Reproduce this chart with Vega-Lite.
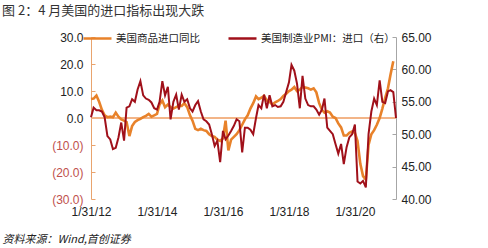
{
  "$schema": "https://vega.github.io/schema/vega-lite/v6.json",
  "width": 305,
  "height": 162,
  "autosize": {"type": "none"},
  "padding": {"left": 91, "top": 37, "right": 92, "bottom": 49},
  "background": "white",
  "config": {"view": {"stroke": null}, "font": "Liberation Sans", "axis": {"labelOverlap": false}},
  "title": {
    "text": "图 2：4 月美国的进口指标出现大跌",
    "anchor": "start",
    "frame": "group",
    "dx": -89,
    "offset": 5,
    "font": "Noto Sans CJK SC",
    "fontSize": 13,
    "fontWeight": "normal",
    "color": "#333333"
  },
  "data": {
    "values": [
      {"date": "2012-01-31", "imports": 7.0, "pmi": 52.6},
      {"date": "2012-02-29", "imports": 7.2, "pmi": 54.1},
      {"date": "2012-03-31", "imports": 8.3, "pmi": 53.7},
      {"date": "2012-04-30", "imports": 6.0, "pmi": 53.7},
      {"date": "2012-05-31", "imports": 3.0, "pmi": 53.5},
      {"date": "2012-06-30", "imports": 1.0, "pmi": 52.6},
      {"date": "2012-07-31", "imports": 0.3, "pmi": 49.7},
      {"date": "2012-08-31", "imports": 0.5, "pmi": 49.2},
      {"date": "2012-09-30", "imports": 0.3, "pmi": 47.7},
      {"date": "2012-10-31", "imports": 2.0, "pmi": 47.9},
      {"date": "2012-11-30", "imports": 0.5, "pmi": 49.5},
      {"date": "2012-12-31", "imports": -0.5, "pmi": 51.8},
      {"date": "2013-01-31", "imports": -1.0, "pmi": 49.0},
      {"date": "2013-02-28", "imports": -1.5, "pmi": 54.1},
      {"date": "2013-03-31", "imports": -6.7, "pmi": 54.3},
      {"date": "2013-04-30", "imports": -3.0, "pmi": 55.4},
      {"date": "2013-05-31", "imports": -1.5, "pmi": 55.0},
      {"date": "2013-06-30", "imports": -0.8, "pmi": 56.9},
      {"date": "2013-07-31", "imports": -0.3, "pmi": 58.2},
      {"date": "2013-08-31", "imports": 0.3, "pmi": 56.0},
      {"date": "2013-09-30", "imports": 0.8, "pmi": 55.5},
      {"date": "2013-10-31", "imports": 1.5, "pmi": 55.3},
      {"date": "2013-11-30", "imports": 0.5, "pmi": 54.9},
      {"date": "2013-12-31", "imports": 1.0, "pmi": 54.0},
      {"date": "2014-01-31", "imports": 1.5, "pmi": 53.8},
      {"date": "2014-02-28", "imports": 5.0, "pmi": 55.0},
      {"date": "2014-03-31", "imports": 6.5, "pmi": 58.2},
      {"date": "2014-04-30", "imports": 4.0, "pmi": 56.0},
      {"date": "2014-05-31", "imports": 5.0, "pmi": 57.3},
      {"date": "2014-06-30", "imports": 4.0, "pmi": 52.3},
      {"date": "2014-07-31", "imports": 3.5, "pmi": 55.0},
      {"date": "2014-08-31", "imports": 4.0, "pmi": 56.1},
      {"date": "2014-09-30", "imports": 4.5, "pmi": 53.8},
      {"date": "2014-10-31", "imports": 4.5, "pmi": 56.1},
      {"date": "2014-11-30", "imports": 5.5, "pmi": 55.0},
      {"date": "2014-12-31", "imports": 4.0, "pmi": 55.4},
      {"date": "2015-01-31", "imports": 1.0, "pmi": 54.0},
      {"date": "2015-02-28", "imports": -1.0, "pmi": 53.5},
      {"date": "2015-03-31", "imports": -4.0, "pmi": 54.5},
      {"date": "2015-04-30", "imports": -4.5, "pmi": 55.1},
      {"date": "2015-05-31", "imports": -4.0, "pmi": 53.5},
      {"date": "2015-06-30", "imports": -4.5, "pmi": 52.3},
      {"date": "2015-07-31", "imports": -4.8, "pmi": 52.0},
      {"date": "2015-08-31", "imports": -6.0, "pmi": 51.5},
      {"date": "2015-09-30", "imports": -6.7, "pmi": 50.0},
      {"date": "2015-10-31", "imports": -7.0, "pmi": 48.2},
      {"date": "2015-11-30", "imports": -8.0, "pmi": 49.0},
      {"date": "2015-12-31", "imports": -8.5, "pmi": 45.7},
      {"date": "2016-01-31", "imports": -7.5, "pmi": 50.5},
      {"date": "2016-02-29", "imports": -1.0, "pmi": 49.2},
      {"date": "2016-03-31", "imports": -12.0, "pmi": 49.8},
      {"date": "2016-04-30", "imports": -8.0, "pmi": 50.5},
      {"date": "2016-05-31", "imports": -7.0, "pmi": 51.3},
      {"date": "2016-06-30", "imports": -6.0, "pmi": 52.3},
      {"date": "2016-07-31", "imports": -4.5, "pmi": 52.0},
      {"date": "2016-08-31", "imports": -2.5, "pmi": 47.2},
      {"date": "2016-09-30", "imports": -0.5, "pmi": 51.0},
      {"date": "2016-10-31", "imports": 1.0, "pmi": 51.0},
      {"date": "2016-11-30", "imports": 3.5, "pmi": 50.7},
      {"date": "2016-12-31", "imports": 5.5, "pmi": 50.0},
      {"date": "2017-01-31", "imports": 8.0, "pmi": 52.5},
      {"date": "2017-02-28", "imports": 7.0, "pmi": 54.5},
      {"date": "2017-03-31", "imports": 7.5, "pmi": 54.0},
      {"date": "2017-04-30", "imports": 8.2, "pmi": 56.1},
      {"date": "2017-05-31", "imports": 6.5, "pmi": 54.0},
      {"date": "2017-06-30", "imports": 6.0, "pmi": 56.0},
      {"date": "2017-07-31", "imports": 5.0, "pmi": 54.3},
      {"date": "2017-08-31", "imports": 5.8, "pmi": 54.5},
      {"date": "2017-09-30", "imports": 6.3, "pmi": 54.2},
      {"date": "2017-10-31", "imports": 7.0, "pmi": 54.3},
      {"date": "2017-11-30", "imports": 8.2, "pmi": 55.0},
      {"date": "2017-12-31", "imports": 9.0, "pmi": 56.5},
      {"date": "2018-01-31", "imports": 10.0, "pmi": 58.0},
      {"date": "2018-02-28", "imports": 10.5, "pmi": 60.7},
      {"date": "2018-03-31", "imports": 11.5, "pmi": 59.8},
      {"date": "2018-04-30", "imports": 10.0, "pmi": 57.8},
      {"date": "2018-05-31", "imports": 10.5, "pmi": 54.0},
      {"date": "2018-06-30", "imports": 11.5, "pmi": 59.0},
      {"date": "2018-07-31", "imports": 11.3, "pmi": 55.5},
      {"date": "2018-08-31", "imports": 11.0, "pmi": 54.5},
      {"date": "2018-09-30", "imports": 10.5, "pmi": 54.3},
      {"date": "2018-10-31", "imports": 11.0, "pmi": 54.3},
      {"date": "2018-11-30", "imports": 9.5, "pmi": 53.8},
      {"date": "2018-12-31", "imports": 5.5, "pmi": 53.0},
      {"date": "2019-01-31", "imports": 3.0, "pmi": 53.8},
      {"date": "2019-02-28", "imports": 2.0, "pmi": 55.5},
      {"date": "2019-03-31", "imports": 2.5, "pmi": 51.0},
      {"date": "2019-04-30", "imports": 2.0, "pmi": 50.5},
      {"date": "2019-05-31", "imports": 0.5, "pmi": 50.0},
      {"date": "2019-06-30", "imports": 0.0, "pmi": 48.5},
      {"date": "2019-07-31", "imports": -2.0, "pmi": 47.0},
      {"date": "2019-08-31", "imports": -3.5, "pmi": 48.5},
      {"date": "2019-09-30", "imports": -6.5, "pmi": 45.4},
      {"date": "2019-10-31", "imports": -6.5, "pmi": 48.0},
      {"date": "2019-11-30", "imports": -5.5, "pmi": 49.5},
      {"date": "2019-12-31", "imports": -5.0, "pmi": 50.0},
      {"date": "2020-01-31", "imports": -5.5, "pmi": 51.5},
      {"date": "2020-02-29", "imports": -8.5, "pmi": 42.7},
      {"date": "2020-03-31", "imports": -17.0, "pmi": 42.4},
      {"date": "2020-04-30", "imports": -21.5, "pmi": 42.8},
      {"date": "2020-05-31", "imports": -22.8, "pmi": 41.8},
      {"date": "2020-06-30", "imports": -10.0, "pmi": 50.0},
      {"date": "2020-07-31", "imports": -6.0, "pmi": 53.5},
      {"date": "2020-08-31", "imports": -4.5, "pmi": 55.5},
      {"date": "2020-09-30", "imports": -2.5, "pmi": 54.5},
      {"date": "2020-10-31", "imports": 0.0, "pmi": 58.3},
      {"date": "2020-11-30", "imports": 3.5, "pmi": 55.0},
      {"date": "2020-12-31", "imports": 7.5, "pmi": 54.8},
      {"date": "2021-01-31", "imports": 11.0, "pmi": 56.6},
      {"date": "2021-02-28", "imports": 16.0, "pmi": 56.8},
      {"date": "2021-03-31", "imports": 21.0, "pmi": 56.5},
      {"date": "2021-04-30", "imports": null, "pmi": 52.5}
    ]
  },
  "encoding": {
    "x": {
      "field": "date",
      "type": "temporal",
      "scale": {"type": "utc", "domain": [{"year": 2012, "month": 1, "date": 31, "utc": true}, {"year": 2021, "month": 4, "date": 30, "utc": true}]},
      "axis": {
        "values": [
          {"year": 2012, "month": 1, "date": 31, "utc": true},
          {"year": 2014, "month": 1, "date": 31, "utc": true},
          {"year": 2016, "month": 1, "date": 31, "utc": true},
          {"year": 2018, "month": 1, "date": 31, "utc": true},
          {"year": 2020, "month": 1, "date": 31, "utc": true}
        ],
        "labelExpr": "utcFormat(datum.value, '%-m/%d/%y')",
        "domain": false,
        "ticks": false,
        "grid": false,
        "labelPadding": 7,
        "labelFontSize": 12,
        "labelColor": "#222222",
        "labelOverlap": false,
        "labelFlush": false,
        "title": "资料来源：Wind,首创证券",
        "titleX": -89,
        "titleY": 40,
        "titleAlign": "left",
        "titleBaseline": "middle",
        "titleFont": "Noto Sans CJK SC",
        "titleFontSize": 11,
        "titleFontStyle": "italic",
        "titleFontWeight": "normal",
        "titleColor": "#222222"
      }
    }
  },
  "layer": [
    {
      "encoding": {
        "y": {
          "type": "quantitative",
          "scale": {"domain": [-30, 30], "nice": false, "zero": false},
          "axis": {
            "orient": "left",
            "values": [-30, -20, -10, 0, 10, 20, 30],
            "labelExpr": "datum.value < 0 ? '(' + format(-datum.value, '.1f') + ')' : format(datum.value, '.1f')",
            "labelColor": {"condition": {"test": "datum.value < 0", "value": "#C0504D"}, "value": "#222222"},
            "labelFontSize": 12,
            "labelPadding": 12,
            "labelOverlap": false,
            "grid": false,
            "title": null,
            "domainColor": "#E9A46E",
            "tickColor": "#E9A46E",
            "tickSize": -4
          }
        }
      },
      "layer": [
        {
          "mark": {"type": "rule", "color": "#F2B487", "strokeWidth": 1},
          "encoding": {"x": null, "y": {"datum": 0, "type": "quantitative", "scale": {"domain": [-30, 30], "nice": false, "zero": false}, "axis": {
            "orient": "left",
            "values": [-30, -20, -10, 0, 10, 20, 30],
            "labelExpr": "datum.value < 0 ? '(' + format(-datum.value, '.1f') + ')' : format(datum.value, '.1f')",
            "labelColor": {"condition": {"test": "datum.value < 0", "value": "#C0504D"}, "value": "#222222"},
            "labelFontSize": 12,
            "labelPadding": 12,
            "labelOverlap": false,
            "grid": false,
            "title": null,
            "domainColor": "#E9A46E",
            "tickColor": "#E9A46E",
            "tickSize": -4
          }}}
        },
        {
          "mark": {"type": "line", "strokeWidth": 2.6},
          "encoding": {
            "y": {
              "field": "imports",
              "type": "quantitative",
              "scale": {"domain": [-30, 30], "nice": false, "zero": false},
              "axis": {
                "orient": "left",
                "values": [-30, -20, -10, 0, 10, 20, 30],
                "labelExpr": "datum.value < 0 ? '(' + format(-datum.value, '.1f') + ')' : format(datum.value, '.1f')",
                "labelColor": {"condition": {"test": "datum.value < 0", "value": "#C0504D"}, "value": "#222222"},
                "labelFontSize": 12,
                "labelPadding": 12,
                "labelOverlap": false,
                "grid": false,
                "title": null,
                "domainColor": "#E9A46E",
                "tickColor": "#E9A46E",
                "tickSize": -4
              }
            },
            "color": {
              "datum": "美国商品进口同比",
              "type": "nominal",
              "scale": {"domain": ["美国商品进口同比", "美国制造业PMI：进口（右）"], "range": ["#E8822A", "#A0101A"]},
              "legend": {
                "orient": "none",
                "legendX": -9,
                "legendY": -14,
                "direction": "horizontal",
                "title": null,
                "symbolType": "stroke",
                "symbolSize": 784,
                "symbolStrokeWidth": 2.5,
                "labelFont": "Noto Sans CJK SC",
                "labelFontSize": 10.5,
                "labelColor": "#222222",
                "labelOffset": 3,
                "columnPadding": 23
              }
            }
          }
        }
      ]
    },
    {
      "mark": {"type": "line", "strokeWidth": 2},
      "encoding": {
        "y": {
          "field": "pmi",
          "type": "quantitative",
          "scale": {"domain": [40, 65], "nice": false, "zero": false},
          "axis": {
            "orient": "right",
            "values": [40, 45, 50, 55, 60, 65],
            "format": ".2f",
            "labelFontSize": 12,
            "labelColor": "#222222",
            "labelPadding": 9,
            "labelOverlap": false,
            "grid": false,
            "title": null,
            "domainColor": "#A6A6A6",
            "tickColor": "#A6A6A6",
            "tickSize": -4
          }
        },
        "color": {"datum": "美国制造业PMI：进口（右）", "type": "nominal"}
      }
    }
  ],
  "resolve": {"scale": {"y": "independent"}}
}
